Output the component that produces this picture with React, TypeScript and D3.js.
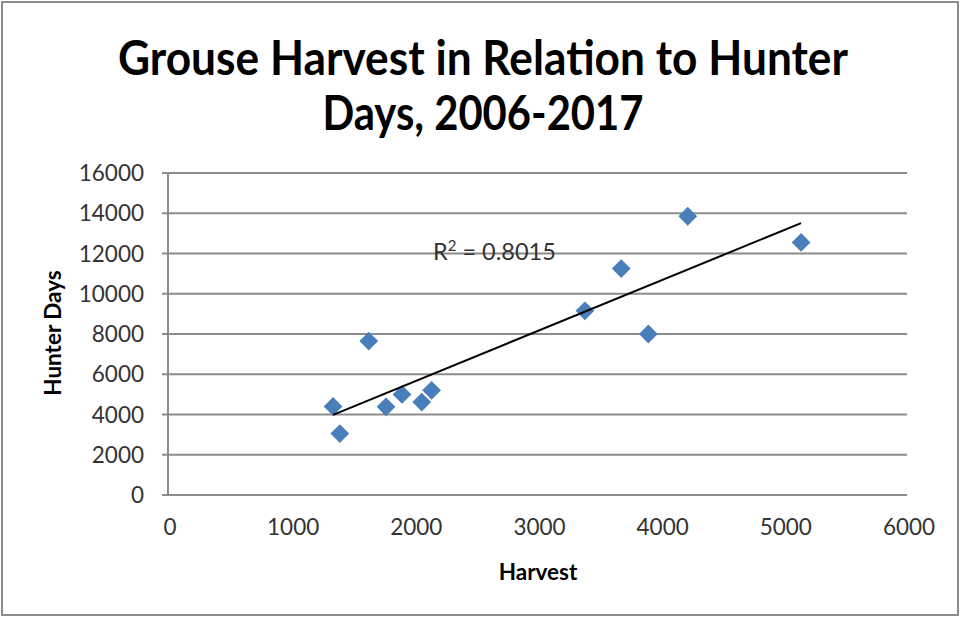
import React from "react";
import * as d3 from "d3";

const harvest = [1340, 1395, 1630, 1770, 1900, 2060, 2140, 3385, 3680, 3900, 4220, 5140];
const hunterDays = [4400, 3050, 7650, 4380, 5000, 4620, 5200, 9150, 11250, 8000, 13850, 12550];
const xTicks = [0, 1000, 2000, 3000, 4000, 5000, 6000];
const yTicks = [0, 2000, 4000, 6000, 8000, 10000, 12000, 14000, 16000];
const titleLines = ["Grouse Harvest in Relation to Hunter", "Days, 2006-2017"];
const titleWidths = [730, 321];
const xTitle = "Harvest";
const yTitle = "Hunter Days";
const rSquaredValue = "0.8015";

const W = 961;
const H = 618;
const FONT = "Lato, Carlito, Calibri, 'Open Sans', sans-serif";

export default function App() {
  const x = d3.scaleLinear().domain([0, 6000]).range([168, 907]);
  const y = d3.scaleLinear().domain([0, 16000]).range([495, 173]);

  const pts = harvest.map((h, i) => ({ x: h, y: hunterDays[i] }));
  const mx = d3.mean(harvest)!;
  const my = d3.mean(hunterDays)!;
  const sxy = d3.sum(pts, (p) => (p.x - mx) * (p.y - my));
  const sxx = d3.sum(pts, (p) => (p.x - mx) ** 2);
  const slope = sxy / sxx;
  const icpt = my - slope * mx;
  const [xmin, xmax] = d3.extent(harvest) as [number, number];
  const trend = d3.line<number>().x((v) => x(v)).y((v) => y(icpt + slope * v))([xmin, xmax]);

  const diamond = d3.symbol().type(d3.symbolDiamond2).size(225)();

  return (
    <div style={{ position: "absolute", left: 0, top: 0 }}>
      <svg width={W} height={H} style={{ display: "block", background: "#fff" }}>
        <rect x={2} y={2} width={956} height={613} fill="#fff" stroke="#8c8c8c" strokeWidth={2} />
        {titleLines.map((t, i) => (
          <text
            key={i}
            x={483}
            y={75 + i * 55}
            textAnchor="middle"
            fontFamily={FONT}
            fontWeight="bold"
            fontSize={47}
            fill="#000"
            textLength={titleWidths[i]}
            lengthAdjust="spacingAndGlyphs"
          >
            {t}
          </text>
        ))}
        {yTicks.map((t) => (
          <g key={t}>
            {t > 0 && (
              <line x1={x(0)} x2={x(6000)} y1={y(t)} y2={y(t)} stroke="#8c8c8c" strokeWidth={2} />
            )}
            <text x={144} y={y(t)} dy="0.36em" textAnchor="end" fontFamily={FONT} fontSize={22.5} fill="#333">
              {t}
            </text>
          </g>
        ))}
        <line x1={x(0)} x2={x(0)} y1={y(16000)} y2={y(0)} stroke="#8c8c8c" strokeWidth={2} />
        <line x1={x(0)} x2={x(6000)} y1={y(0)} y2={y(0)} stroke="#8c8c8c" strokeWidth={2} />
        {yTicks.map((t) => (
          <line key={"yt" + t} x1={x(0) - 6} x2={x(0)} y1={y(t)} y2={y(t)} stroke="#8c8c8c" strokeWidth={2} />
        ))}
        {xTicks.map((t) => (
          <text key={t} x={x(t) + 2} y={535} textAnchor="middle" fontFamily={FONT} fontSize={22.5} fill="#333">
            {t}
          </text>
        ))}
        <text x={538} y={580} textAnchor="middle" fontFamily={FONT} fontWeight="bold" fontSize={22.5} fill="#000">
          {xTitle}
        </text>
        <text transform={`translate(61,333) rotate(-90)`} textAnchor="middle" fontFamily={FONT} fontWeight="bold" fontSize={22.5} fill="#000">
          {yTitle}
        </text>
        {pts.map((p, i) => (
          <path key={i} d={diamond!} transform={`translate(${x(p.x)},${y(p.y)})`} fill="#4a7ebb" />
        ))}
        <path d={trend!} stroke="#000" strokeWidth={2} fill="none" />
        <text x={433} y={260} fontFamily={FONT} fontSize={23.5} fill="#333">
          R<tspan fontSize={15} dy={-9}>2</tspan>
          <tspan dy={9}>{" = " + rSquaredValue}</tspan>
        </text>
      </svg>
    </div>
  );
}
